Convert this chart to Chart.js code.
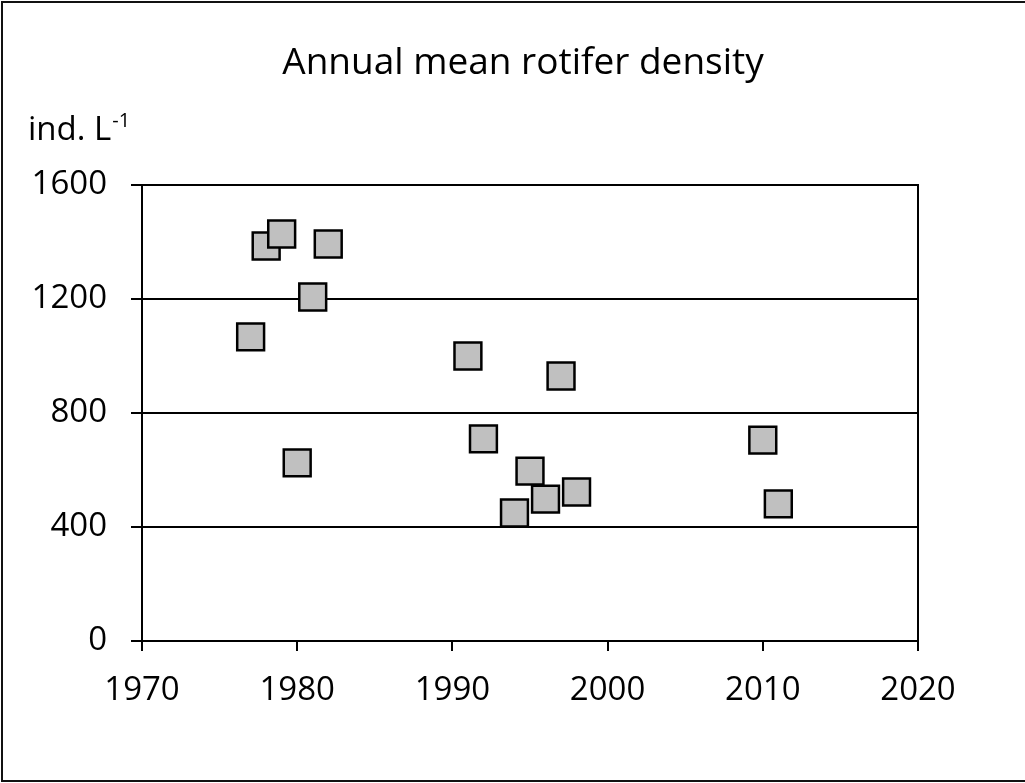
<!DOCTYPE html>
<html>
<head>
<meta charset="utf-8">
<script src="https://cdn.jsdelivr.net/npm/chart.js@4.4.1/dist/chart.umd.min.js"></script>
<style>
  html, body { margin: 0; padding: 0; background: #fff; }
  #wrap { width: 1025px; height: 783px; }
</style>
</head>
<body>
<div id="wrap"><canvas id="rotiferChart" width="1025" height="783"></canvas></div>
<script>
// данні
const years = [1977, 1978, 1979, 1980, 1981, 1982, 1991, 1992, 1994, 1995, 1996, 1997, 1998, 2010, 2011];
const density = [1067, 1386, 1428, 625, 1207, 1393, 1000, 709, 449, 596, 498, 930, 523, 705, 481];
const xTicks = [1970, 1980, 1990, 2000, 2010, 2020];
const yTicks = [0, 400, 800, 1200, 1600];

const TITLE = 'Annual mean rotifer density';
const FONT = '"Open Sans", "Liberation Sans", sans-serif';

// рамка, заголовок, одиниці
const decorPlugin = {
    id: 'decor',
    afterDraw(chart) {
        const ctx = chart.ctx;
        const a = chart.chartArea;
        ctx.save();
        // plot box
        ctx.strokeStyle = '#000';
        ctx.lineWidth = 2;
        ctx.strokeRect(a.left, a.top, a.right - a.left, a.bottom - a.top);
        // outer frame (правий край за межами кадру)
        ctx.lineWidth = 2;
        ctx.strokeStyle = '#111';
        ctx.beginPath();
        ctx.moveTo(1030, 2);
        ctx.lineTo(2, 2);
        ctx.lineTo(2, 781);
        ctx.lineTo(1030, 781);
        ctx.stroke();

        ctx.fillStyle = '#000';
        ctx.textBaseline = 'alphabetic';
        ctx.textAlign = 'center';
        ctx.font = '37px ' + FONT;
        ctx.fillText(TITLE, 523, 74);

        ctx.textAlign = 'left';
        ctx.font = '33px ' + FONT;
        ctx.fillText('ind. L', 28, 140);
        const w = ctx.measureText('ind. L').width;
        ctx.font = '20px ' + FONT;
        ctx.fillText('-1', 28 + w + 1, 127);
        ctx.restore();
    }
};

const points = years.map((y, i) => ({ x: y, y: density[i] }));

new Chart(document.getElementById('rotiferChart'), {
    type: 'scatter',
    data: {
        datasets: [{
            data: points,
            pointStyle: 'rect',
            pointRadius: 19,
            pointHoverRadius: 19,
            backgroundColor: '#c0c0c0',
            borderColor: '#000',
            borderWidth: 2.5
        }]
    },
    options: {
        responsive: false,
        animation: false,
        layout: { padding: { left: 0, top: 185, right: 107, bottom: 0 } },
        scales: {
            x: {
                type: 'linear',
                min: 1970,
                max: 2020,
                afterBuildTicks: (axis) => { axis.ticks = xTicks.map(v => ({ value: v })); },
                afterFit: (axis) => { axis.height = 142; },
                ticks: {
                    color: '#000',
                    font: { family: FONT, size: 33 },
                    padding: 20,
                    maxRotation: 0,
                    autoSkip: false,
                    callback: (v) => String(v)
                },
                grid: { drawOnChartArea: false, color: '#000', lineWidth: 2, tickLength: 10 },
                border: { color: '#000', width: 2 }
            },
            y: {
                type: 'linear',
                min: 0,
                max: 1600,
                afterBuildTicks: (axis) => { axis.ticks = yTicks.map(v => ({ value: v })); },
                afterFit: (axis) => { axis.width = 142; },
                ticks: {
                    color: '#000',
                    font: { family: FONT, size: 33 },
                    padding: 24,
                    callback: (v) => String(v)
                },
                grid: { color: '#000', lineWidth: 2, tickLength: 11 },
                border: { color: '#000', width: 2 }
            }
        },
        plugins: {
            legend: { display: false },
            tooltip: { enabled: false }
        }
    },
    plugins: [decorPlugin]
});
</script>
</body>
</html>
